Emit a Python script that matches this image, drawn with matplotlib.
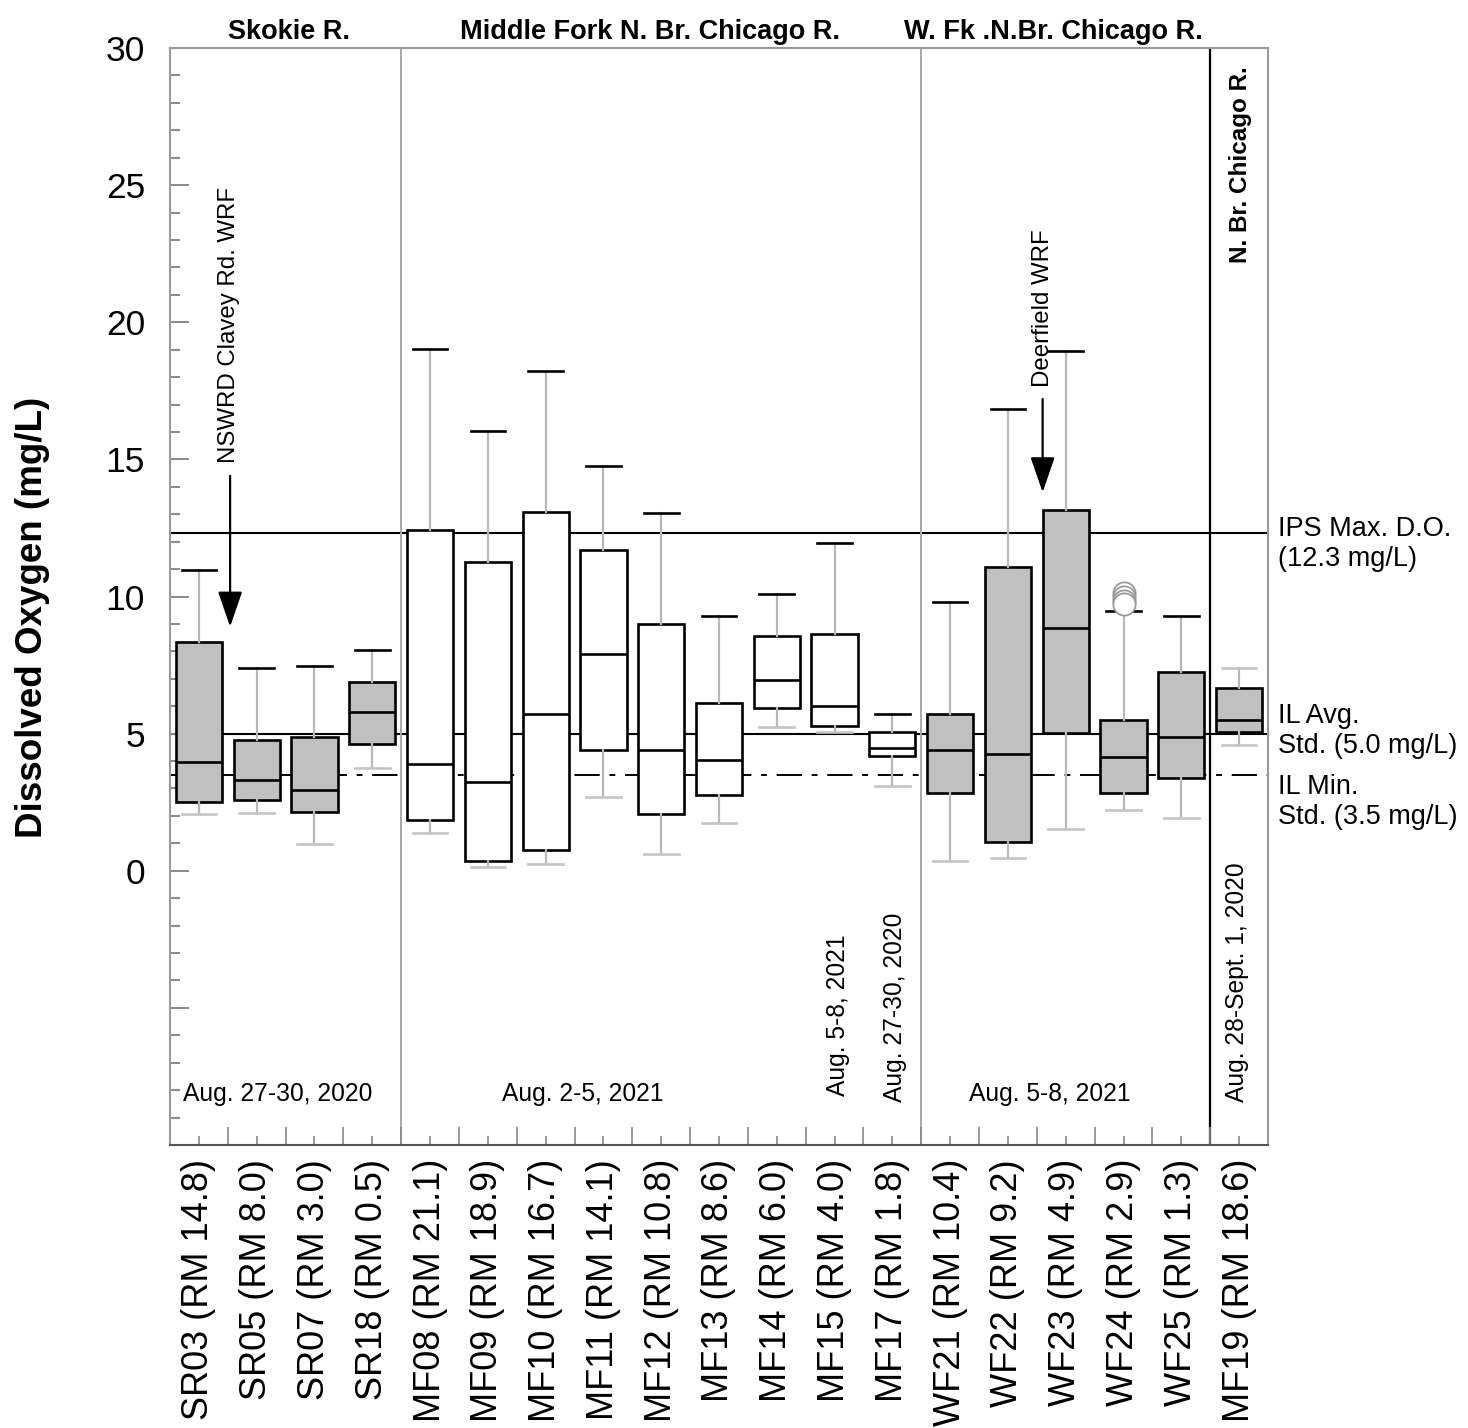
import matplotlib
matplotlib.use("Agg")
import matplotlib.pyplot as plt
from matplotlib.ticker import MultipleLocator, FixedLocator, FuncFormatter
from matplotlib.transforms import blended_transform_factory

plt.rcParams['font.family'] = ['Liberation Sans', 'DejaVu Sans']

# ---- data -------------------------------------------------------------
sites = ["SR03 (RM 14.8)", "SR05 (RM 8.0)", "SR07 (RM 3.0)", "SR18 (RM 0.5)",
         "MF08 (RM 21.1)", "MF09 (RM 18.9)", "MF10 (RM 16.7)", "MF11 (RM 14.1)",
         "MF12 (RM 10.8)", "MF13 (RM 8.6)", "MF14 (RM 6.0)", "MF15 (RM 4.0)",
         "MF17 (RM 1.8)", "WF21 (RM 10.4)", "WF22 (RM 9.2)", "WF23 (RM 4.9)",
         "WF24 (RM 2.9)", "WF25 (RM 1.3)", "MF19 (RM 18.6)"]

whisker_low = [2.06, 2.09, 0.99, 3.76, 1.36, 0.15, 0.25, 2.68, 0.60, 1.74,
               5.25, 5.05, 3.10, 0.34, 0.47, 1.54, 2.22, 1.91, 4.60]
quartile_1 = [2.51, 2.57, 2.16, 4.61, 1.84, 0.34, 0.77, 4.41, 2.07, 2.75,
              5.94, 5.28, 4.19, 2.82, 1.06, 5.02, 2.82, 3.40, 5.06]
median = [3.97, 3.32, 2.96, 5.79, 3.90, 3.25, 5.72, 7.90, 4.41, 4.05,
          6.95, 6.02, 4.48, 4.41, 4.27, 8.86, 4.14, 4.86, 5.51]
quartile_3 = [8.35, 4.78, 4.86, 6.89, 12.41, 11.25, 13.07, 11.69, 9.00, 6.10,
              8.56, 8.65, 5.06, 5.73, 11.09, 13.14, 5.51, 7.24, 6.67]
whisker_high = [10.95, 7.40, 7.48, 8.04, 19.02, 16.05, 18.23, 14.75, 13.06, 9.30,
                10.08, 11.96, 5.72, 9.79, 16.85, 18.96, 9.46, 9.29, 7.41]
outliers = {"WF24 (RM 2.9)": [10.12, 9.97, 9.84, 9.72]}
shaded = [True] * 4 + [False] * 9 + [True] * 6

ips_max = 12.3
il_avg = 5.0
il_min = 3.5

# ---- figure -----------------------------------------------------------
fig = plt.figure(figsize=(14.68, 14.28), dpi=100)
ax = fig.add_axes([170 / 1468, 1 - 1145 / 1428, 1098 / 1468, 1097 / 1428])

ax.set_xlim(-0.5, len(sites) - 0.5)
ax.set_ylim(-10, 30)

# standards lines
ax.axhline(ips_max, color='black', lw=1.5, zorder=1)
ax.axhline(il_avg, color='black', lw=1.5, zorder=1)
ax.axhline(il_min, color='black', lw=1.4, zorder=1, linestyle=(0, (13, 5, 3, 5)))

# reach separators
ax.axvline(3.5, color='#a8a8a8', lw=1.4, zorder=1)
ax.axvline(12.5, color='#a8a8a8', lw=1.4, zorder=1)
ax.axvline(17.5, color='black', lw=1.6, zorder=1)

stats = []
for i, s in enumerate(sites):
    stats.append(dict(label=s, whislo=whisker_low[i], q1=quartile_1[i], med=median[i],
                      q3=quartile_3[i], whishi=whisker_high[i],
                      fliers=outliers.get(s, [])))

res = ax.bxp(stats, positions=list(range(len(sites))), widths=0.8, capwidths=0.6,
             patch_artist=True, showfliers=True,
             boxprops=dict(edgecolor='black', linewidth=1.9),
             medianprops=dict(color='black', linewidth=1.9),
             whiskerprops=dict(color='#b8b8b8', linewidth=1.6),
             capprops=dict(color='black', linewidth=1.9),
             flierprops=dict(marker='o', markersize=16, markerfacecolor='white',
                             markeredgecolor='#9a9a9a', markeredgewidth=1.3))

for i, box in enumerate(res['boxes']):
    box.set_facecolor('#c0c0c0' if shaded[i] else 'white')
    box.set_zorder(2)
for i in range(len(sites)):
    res['caps'][2 * i].set_color('#c4c4c4')
res['caps'][2 * 18 + 1].set_color('#c4c4c4')
for fl in res['fliers']:
    fl.set_zorder(4)

# ---- axes styling -----------------------------------------------------
for side in ['left', 'top', 'right']:
    ax.spines[side].set_color('#9a9a9a')
    ax.spines[side].set_linewidth(1.5)
ax.spines['bottom'].set_color('#555555')
ax.spines['bottom'].set_linewidth(1.5)

ax.yaxis.set_major_locator(MultipleLocator(5))
ax.yaxis.set_minor_locator(MultipleLocator(1))
ax.yaxis.set_major_formatter(FuncFormatter(lambda v, p: '' if v < 0 else f'{v:.0f}'))
ax.tick_params(axis='y', which='major', direction='in', length=14, width=1.4,
               color='#888888', labelsize=25.5, pad=18)
ax.tick_params(axis='y', which='minor', direction='in', length=7, width=1.4,
               color='#888888')

ax.xaxis.set_minor_locator(FixedLocator([i + 0.5 for i in range(-1, len(sites))]))
ax.tick_params(axis='x', which='major', direction='in', length=6.5, width=1.2,
               color='#888888', labelsize=26, pad=10, labelrotation=90)
ax.tick_params(axis='x', which='minor', direction='in', length=13, width=1.2,
               color='#888888')

fig.text(33 / 1468, 1 - 617 / 1428, 'Dissolved Oxygen (mg/L)', rotation=90,
         ha='center', va='center', fontsize=26.5, fontweight='bold')

# ---- annotations ------------------------------------------------------
top = blended_transform_factory(ax.transData, ax.transAxes)
ax.text(1.56, 1.003, 'Skokie R.', transform=top, ha='center', va='bottom',
        fontsize=19.5, fontweight='bold')
ax.text(7.8, 1.003, 'Middle Fork N. Br. Chicago R.', transform=top, ha='center',
        va='bottom', fontsize=19.5, fontweight='bold')
ax.text(14.78, 1.003, 'W. Fk .N.Br. Chicago R.', transform=top, ha='center',
        va='bottom', fontsize=19.5, fontweight='bold')
ax.text(18.03, 29.35, 'N. Br. Chicago R.', rotation=90, ha='center', va='top',
        fontsize=17.5, fontweight='bold')

ax.text(0.52, 14.85, 'NSWRD Clavey Rd. WRF', rotation=90, ha='center', va='bottom',
        fontsize=17.3)
ax.annotate('', xy=(0.54, 8.9), xytext=(0.54, 14.4),
            arrowprops=dict(arrowstyle='-|>,head_length=1.1,head_width=0.38',
                            mutation_scale=20, color='black', lw=1.6,
                            shrinkA=0, shrinkB=0))
ax.text(14.6, 17.65, 'Deerfield WRF', rotation=90, ha='center', va='bottom',
        fontsize=17.3)
ax.annotate('', xy=(14.6, 13.8), xytext=(14.6, 17.2),
            arrowprops=dict(arrowstyle='-|>,head_length=1.1,head_width=0.38',
                            mutation_scale=20, color='black', lw=1.6,
                            shrinkA=0, shrinkB=0))

ax.text(1.37, -8.15, 'Aug. 27-30, 2020', ha='center', va='center', fontsize=17.7)
ax.text(6.65, -8.15, 'Aug. 2-5, 2021', ha='center', va='center', fontsize=17.7)
ax.text(14.72, -8.15, 'Aug. 5-8, 2021', ha='center', va='center', fontsize=17.7)
ax.text(11.06, -8.2, 'Aug. 5-8, 2021', rotation=90, ha='center', va='bottom', fontsize=17.7)
ax.text(12.04, -8.45, 'Aug. 27-30, 2020', rotation=90, ha='center', va='bottom', fontsize=17.7)
ax.text(17.96, -8.45, 'Aug. 28-Sept. 1, 2020', rotation=90, ha='center', va='bottom',
        fontsize=17.7)

right = blended_transform_factory(ax.transAxes, ax.transData)
ax.text(1.009, 11.9, 'IPS Max. D.O.\n(12.3 mg/L)', transform=right, ha='left',
        va='center', fontsize=19.5, linespacing=1.2)
ax.text(1.009, 5.08, 'IL Avg.\nStd. (5.0 mg/L)', transform=right, ha='left',
        va='center', fontsize=19.5, linespacing=1.2)
ax.text(1.009, 2.5, 'IL Min.\nStd. (3.5 mg/L)', transform=right, ha='left',
        va='center', fontsize=19.5, linespacing=1.2)

fig.savefig('out.png', dpi=100)
